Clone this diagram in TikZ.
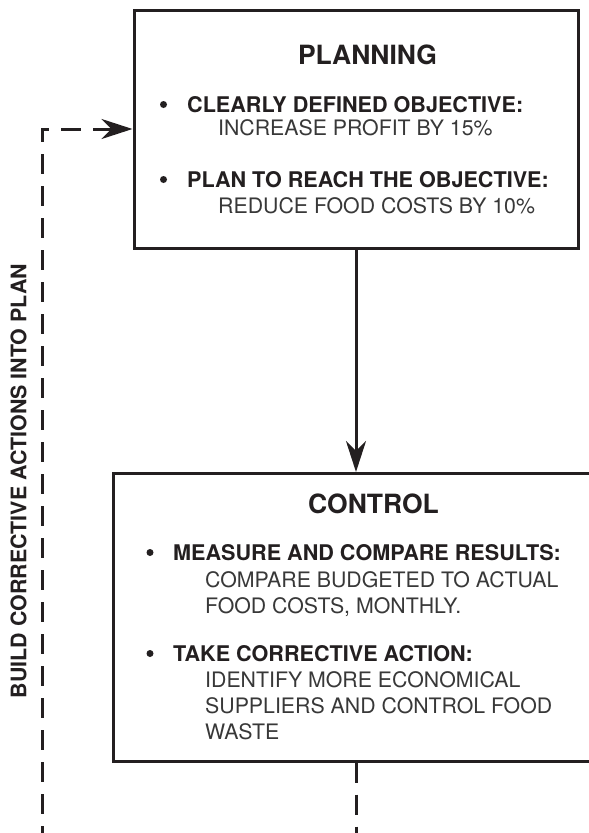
\documentclass[tikz,border=0pt]{standalone}
\usepackage{fontspec}
\setmainfont{TeX Gyre Heros}
\usetikzlibrary{arrows.meta}
\definecolor{ink}{HTML}{231F20}
\definecolor{softink}{HTML}{383838}

\begin{document}
\begin{tikzpicture}[x=1pt,y=-1pt,
  box/.style={draw=ink, line width=3pt, fill=white, inner sep=0pt},
  bigtip/.tip={Stealth[length=31pt,width=20pt,inset=10pt]},
  flow/.style={draw=ink, line width=3pt, -bigtip},
  loopline/.style={draw=ink, line width=3pt, dash pattern=on 20pt off 12pt},
  heading/.style={font=\fontsize{26.5}{30}\selectfont\bfseries, text=ink, inner sep=0pt, anchor=base},
  point/.style={font=\fontsize{21.6}{25}\selectfont\bfseries, text=ink, inner sep=0pt, anchor=base west},
  bulletmark/.style={circle, fill=ink, inner sep=0pt, minimum size=7pt},
  detail/.style={font=\fontsize{21.3}{25}\selectfont, text=softink, inner sep=0pt, anchor=base west},
  sidelabel/.style={font=\fontsize{21.4}{25}\selectfont\bfseries, text=ink, inner sep=0pt, rotate=90}
]
\useasboundingbox (0,0) rectangle (589,833);
\clip (0,0) rectangle (589,833);

% the two stages
\node[box, minimum width=444pt, minimum height=238pt] (planning) at (356,129) {};
\node[box, minimum width=485pt, minimum height=287.5pt] (control) at (356,617.25) {};

% open ends of the feedback loop
\coordinate (loopfoot) at (42,850);
\coordinate (tailfoot) at (356,850);

% connectors
\draw[flow] (planning.south) -- (control.north);
\draw[loopline] (control.south) -- (tailfoot);
\draw[loopline, arrows={bigtip-}] (planning.west) -| (loopfoot);

% planning text
\node[heading] (ptitle) at (367.5,64) {PLANNING};
\node[bulletmark] (pb1) at (163.5,104.5) {};
\node[point] (pk1) at (187,112) {CLEARLY DEFINED OBJECTIVE:};
\node[detail] (pd1) at (218,135) {INCREASE PROFIT BY 15\%};
\node[bulletmark] (pb2) at (163.5,179.5) {};
\node[point] (pk2) at (187,187) {PLAN TO REACH THE OBJECTIVE:};
\node[detail] (pd2) at (218,213) {REDUCE FOOD COSTS BY 10\%};

% control text
\node[heading] (ctitle) at (373.5,513) {CONTROL};
\node[bulletmark] (cb1) at (150,552.5) {};
\node[point] (ck1) at (173,560) {MEASURE AND COMPARE RESULTS:};
\node[detail] (cd1) at (205,587) {COMPARE BUDGETED TO ACTUAL};
\node[detail] (cd2) at (205,613) {FOOD COSTS, MONTHLY.};
\node[bulletmark] (cb2) at (150,653.5) {};
\node[point] (ck2) at (173,661) {TAKE CORRECTIVE ACTION:};
\node[detail] (cd3) at (205,687) {IDENTIFY MORE ECONOMICAL};
\node[detail] (cd4) at (205,713) {SUPPLIERS AND CONTROL FOOD};
\node[detail] (cd5) at (205,739) {WASTE};

% loop label
\node[sidelabel] (looplabel) at (18.5,481) {BUILD CORRECTIVE ACTIONS INTO PLAN};
\end{tikzpicture}
\end{document}
